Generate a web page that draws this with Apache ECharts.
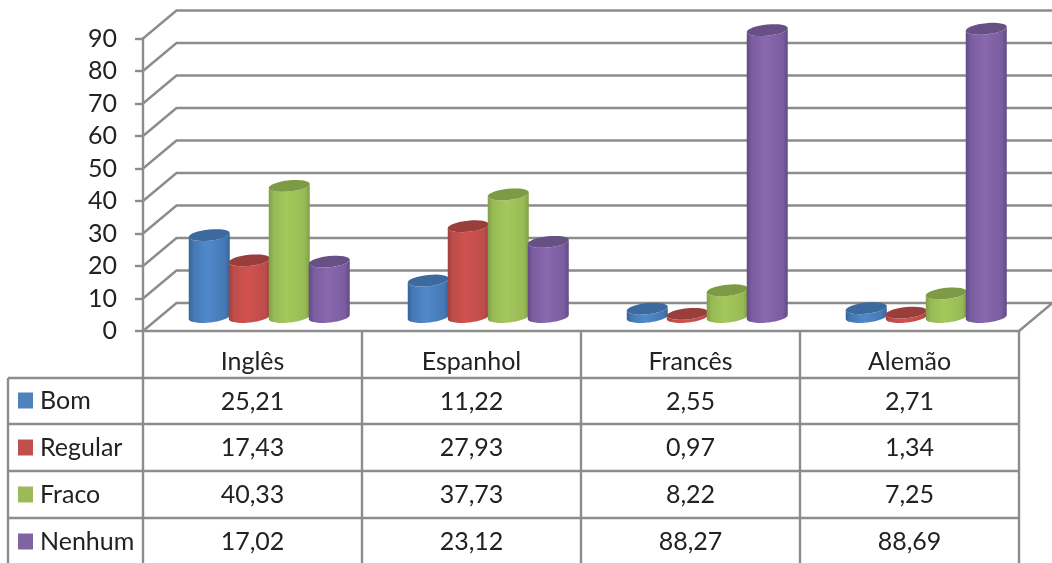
<!DOCTYPE html>
<html><head><meta charset="utf-8">
<style>html,body{margin:0;padding:0;background:#fff}#c{width:1052px;height:563px;filter:blur(0.5px)}</style>
<script src="https://cdn.jsdelivr.net/npm/echarts@6/dist/echarts.min.js"></script>
</head><body><div id="c"></div>
<script>
const categories = ['Inglês','Espanhol','Francês','Alemão'];
const seriesNames = ['Bom','Regular','Fraco','Nenhum'];
const bom = [25.21,11.22,2.55,2.71];
const regular = [17.43,27.93,0.97,1.34];
const fraco = [40.33,37.73,8.22,7.25];
const nenhum = [17.02,23.12,88.27,88.69];
const yTicks = [0,10,20,30,40,50,60,70,80,90];
const allValues = [bom,regular,fraco,nenhum];
const bodyColors = [['#34659c','#4679b4','#5089cb'],['#a03f3c','#bd4d4a','#d0524f'],['#7f9f45','#97ba55','#a5c85c'],['#624a84','#7a5da0','#8a68ae']];
const topColors = ['#3c6a9e','#993e3b','#7d9b46','#675084'];
const keyColors = ['#4f81bd','#c0504d','#9bbb59','#8064a2'];

const GRID = '#8c8c8c', FONT = 'Lato', TXT = '#222';
const DX = 33.5, DY = -28, BW = 40, RX = 20.5, RY = 5.6, TILT = 2;

function ell(cx, cy, a, b){ const out=[]; const n=32;
  for(let i=0;i<=n;i++){ const t=a+(b-a)*i/n; out.push([cx+RX*Math.cos(t), cy+RY*Math.sin(t)-TILT*Math.cos(t)]); }
  return out; }

function cylinder(si){ return function(params, api){
  const top = api.coord([api.value(0), api.value(1)]);
  const base = api.coord([api.value(0), 0]);
  const cx = top[0] + DX/2 + (si-1.5)*BW;
  const yT = top[1] + DY/2, yB = base[1] + DY/2;
  const lowerBase = ell(cx, yB, Math.PI, 0);
  const lowerTop = ell(cx, yT, 0, Math.PI);
  const c = bodyColors[si];
  return {type:'group', children:[
    {type:'polygon', shape:{points:lowerBase.concat(lowerTop)},
     style:{fill:new echarts.graphic.LinearGradient(0,0,1,0,[
       {offset:0,color:c[0]},{offset:0.12,color:c[1]},{offset:0.45,color:c[2]},{offset:0.88,color:c[1]},{offset:1,color:c[0]}])}},
    {type:'polygon', shape:{points:ell(cx, yT, 0, Math.PI*2)}, style:{fill:topColors[si]}}
  ]};
};}

function wall(params, api){
  const v = api.value(0), p = api.coord([0, v]);
  const x0 = params.coordSys.x, x1 = x0 + params.coordSys.width, y = p[1];
  const pts = [[x0,y],[x0+DX,y+DY],[x1+DX,y+DY]];
  if (v === 0) pts.push([x1,y]);
  return {type:'polyline', shape:{points:pts}, style:{stroke:GRID, lineWidth:2.4, fill:null}};
}

const series = [{type:'custom', name:'wall', renderItem:wall, z:1, silent:true,
  data:yTicks.map(v=>[v]), encode:{y:0}}];
seriesNames.forEach((n,si)=>{
  series.push({type:'custom', name:n, z:2+si, renderItem:cylinder(si),
    itemStyle:{color:keyColors[si]},
    data:allValues[si].map((v,i)=>[i,v]), encode:{x:0,y:1}});
});

// data table
const colX = [143,362,581,800,1019], rowY = [378,424,471,518], left = 8;
const g = [];
const ln = (x1,y1,x2,y2)=>g.push({type:'line',shape:{x1,y1,x2,y2},style:{stroke:GRID,lineWidth:2.4},z:1});
colX.forEach(x=>ln(x,331,x,563));
ln(left,378,left,563);
rowY.forEach(y=>ln(left,y,1020,y));
const rowCenter = [402,448,495,542];
allValues.forEach((vals,r)=>vals.forEach((v,c)=>{
  g.push({type:'text',x:(colX[c]+colX[c+1])/2,y:rowCenter[r],z:3,
    style:{text:v.toFixed(2).replace('.',','),font:'25px '+FONT,fill:TXT,align:'center',verticalAlign:'middle'}});
}));

const chart = echarts.init(document.getElementById('c'),null,{renderer:'canvas'});
chart.setOption({
  animation:false, backgroundColor:'#fff',
  grid:{left:143,right:33,top:38.5,bottom:232,containLabel:false},
  xAxis:{type:'category',data:categories,
    axisLine:{lineStyle:{color:GRID,width:2.4}},axisTick:{show:false},
    axisLabel:{color:TXT,fontFamily:FONT,fontSize:25,margin:18}},
  yAxis:{type:'value',min:0,max:90,interval:10,
    axisLine:{show:true,lineStyle:{color:GRID,width:2.4}},
    axisTick:{show:true,length:8,lineStyle:{color:GRID,width:2.4}},
    splitLine:{show:false},
    axisLabel:{color:TXT,fontFamily:FONT,fontSize:25,margin:26}},
  legend:{data:seriesNames,orient:'vertical',left:18,top:388,height:172,itemWidth:15,itemHeight:16,itemGap:22,
    icon:'rect',selectedMode:false,padding:0,
    textStyle:{color:TXT,fontFamily:FONT,fontSize:25,height:16,lineHeight:16,padding:[0,0,0,2]}},
  graphic:{elements:g},
  series
});
</script></body></html>
